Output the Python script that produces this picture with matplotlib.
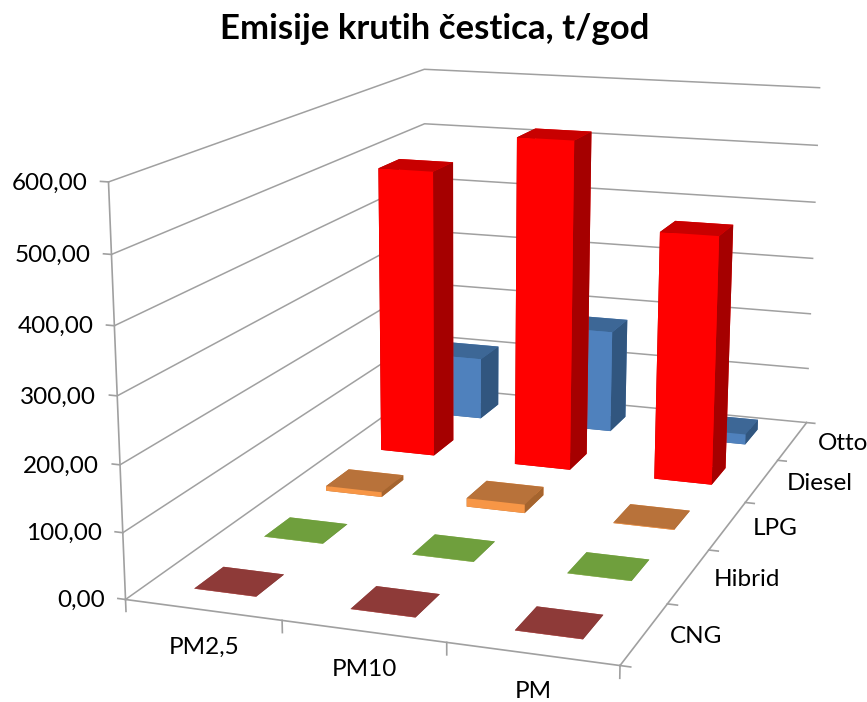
"""Emisije krutih cestica: 3D bar chart with an Excel style camera."""

import matplotlib

matplotlib.use("Agg")
import matplotlib.pyplot as plt
import numpy as np
from mpl_toolkits.mplot3d import proj3d

plt.rcParams["font.family"] = ["Lato", "DejaVu Sans"]

categories = ["PM2,5", "PM10", "PM"]
series_names = ["CNG", "Hibrid", "LPG", "Diesel", "Otto"]
cng = [0.5, 0.5, 0.5]
hibrid = [0.5, 0.5, 0.5]
lpg = [8, 14, 1]
diesel = [490, 555, 415]
otto = [110, 180, 18]
z_ticks = [0, 100, 200, 300, 400, 500, 600]

# bottom, top, front, back, left, right
face_colors = {
    "CNG": ["#8E3A38", "#8E3A38", "#C0504D", "#C0504D", "#7a2c2a", "#7a2c2a"],
    "Hibrid": ["#6F9F3D", "#6F9F3D", "#9BBB59", "#9BBB59", "#5f8a30", "#5f8a30"],
    "LPG": ["#B8723A", "#B8723A", "#F79646", "#F79646", "#A5642E", "#A5642E"],
    "Diesel": ["#C80000", "#C80000", "#FF0000", "#FF0000", "#A50000", "#A50000"],
    "Otto": ["#3D6796", "#3D6796", "#4F81BD", "#4F81BD", "#31567F", "#31567F"],
}

W, H = 867, 702
GREY = "#a0a0a0"
BAR_W = 0.4
LABEL_SIZE = 17.5

# where the chart box corners land on the picture, pixels
camera_points = [
    ((0, 0, 0), (126, 599)),
    ((3, 0, 0), (620, 666)),
    ((3, 5, 0), (807, 422)),
    ((0, 5, 0), (425, 387)),
    ((0, 0, 600), (108, 182)),
    ((3, 5, 600), (820, 88)),
    ((0, 5, 600), (425, 69)),
]


def fit_camera(ax):
    """Solve the projection matrix from the box corners."""
    ax.apply_aspect()
    inv = ax.transData.inverted()
    rows = []
    for (x, y, z), (px, py) in camera_points:
        u, v = inv.transform((px, H - py))
        p = [x / 3, y / 5, z / 600, 1]
        rows.append(p + [0, 0, 0, 0] + [-u * c for c in p])
        rows.append([0, 0, 0, 0] + p + [-v * c for c in p])
    sol = np.linalg.svd(np.array(rows))[2][-1].reshape(3, 4)
    if sol[2, 3] < 0:
        sol = -sol
    sol = sol @ np.diag([1 / 3, 1 / 5, 1 / 600, 1])
    return np.array([sol[0], sol[1], [0, 0, 0, -sol[2, 3]], sol[2]])


def add_label(ax, x, y, z, text, dx, dy, ha):
    """Put a label next to a 3D point, offset in pixels."""
    u, v, _ = proj3d.proj_transform(x, y, z, ax.get_proj())
    ax.annotate(text, xy=(u, v), xycoords="data", xytext=(dx, -dy), textcoords="offset pixels",
                fontsize=LABEL_SIZE, ha=ha, va="center", annotation_clip=False)


fig = plt.figure(figsize=(W / 100, H / 100), dpi=100)
ax = fig.add_axes([0, (H - W) / 2 / H, 1, W / H], projection="3d")
ax.set_xlim(0, 3)
ax.set_ylim(0, 5)
ax.set_zlim(0, 600)
ax.patch.set_alpha(0)
proj = fit_camera(ax)
ax.get_proj = lambda: proj
ax.computed_zorder = False

for axis in (ax.xaxis, ax.yaxis, ax.zaxis):
    axis.set_pane_color((1, 1, 1, 0))
    axis.pane.set_edgecolor("none")
    axis.line.set_color("none")
    axis._axinfo["tick"]["inward_factor"] = 0
    axis._axinfo["tick"]["outward_factor"] = 0
ax.zaxis._axinfo["grid"]["color"] = GREY
ax.zaxis._axinfo["grid"]["linewidth"] = 1.1

ax.set_xticks([])
ax.set_yticks([])
ax.set_zticks(z_ticks)
ax.set_zticklabels([])

# axis lines and tick marks
line_style = dict(color=GREY, lw=1.2, zorder=1)
ax.plot([0, 3], [0, 0], [0, 0], **line_style)
ax.plot([3, 3], [0, 5], [0, 0], **line_style)
ax.plot([0, 0], [0, 0], [0, 600], **line_style)
for xt in range(len(categories) + 1):
    ax.plot([xt, xt], [0, 0], [0, -18], **line_style)
for yt in range(len(series_names) + 1):
    ax.plot([3, 3.06], [yt, yt], [0, 0], **line_style)
for zt in z_ticks:
    ax.plot([0, -0.05], [0, 0], [zt, zt], **line_style)

# labels sit beside the box edges
for col, name in enumerate(categories):
    add_label(ax, col + 0.5, 0, 0, name, 1, 38, "center")
for row, name in enumerate(series_names):
    add_label(ax, 3, row + 0.5, 0, name, 25, 3, "left")
for zt in z_ticks:
    add_label(ax, 0, 0, zt, f"{zt:.2f}".replace(".", ","), -21, 1, "right")

# back rows first so nearer bars cover them
all_series = [cng, hibrid, lpg, diesel, otto]
for row in reversed(range(len(series_names))):
    name = series_names[row]
    for col, value in enumerate(all_series[row]):
        ax.bar3d(
            col + 0.5 - BAR_W / 2,
            row + 0.5 - BAR_W / 2,
            0,
            BAR_W,
            BAR_W,
            value,
            color=face_colors[name],
            shade=False,
            zorder=3,
        )

fig.text(435 / W, 1 - 29 / H, "Emisije krutih čestica, t/god", fontsize=25, fontweight="bold",
         ha="center", va="center")

fig.savefig("out.png", dpi=100)
